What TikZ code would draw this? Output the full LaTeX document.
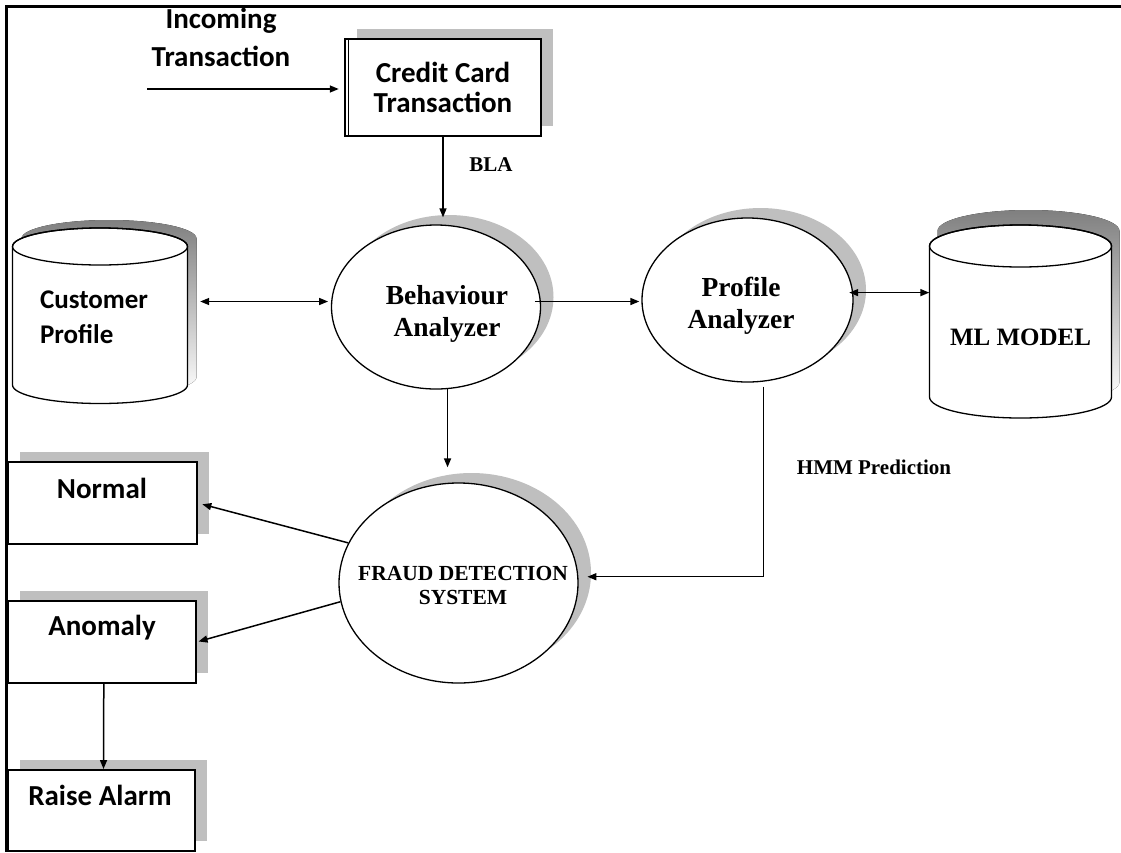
\documentclass[tikz,border=0pt]{standalone}
\usepackage{fontspec}
\newfontfamily\calfont{Carlito}
\newfontfamily\timfont{Liberation Serif}
\usetikzlibrary{shapes.geometric,shadows,arrows.meta,calc}
\definecolor{shade}{gray}{0.75}
% cylinder outline: cx, y of top ellipse centre, y of bottom ellipse centre, rx, ry
\newcommand\cylpath[5]{(#1-#4,#2) -- (#1-#4,#3) arc[start angle=180,end angle=360,x radius=#4pt,y radius=#5pt] -- (#1+#4,#2) arc[start angle=0,end angle=180,x radius=#4pt,y radius=#5pt] -- cycle}
\newcommand\cylinderdraw[7]{%
  \fill[shade,shift={(#6pt,#7pt)}] \cylpath{#1}{#2}{#3}{#4}{#5};
  \filldraw[fill=white,line width=1.3pt] \cylpath{#1}{#2}{#3}{#4}{#5};
  \draw[line width=1.3pt] (#1,#2) ellipse[x radius=#4pt,y radius=#5pt];}
\begin{document}
\begin{tikzpicture}[x=1pt,y=-1pt,
  calA/.style={font=\calfont\bfseries\fontsize{29}{38}\selectfont},
  calB/.style={font=\calfont\bfseries\fontsize{29}{30}\selectfont},
  calC/.style={font=\calfont\bfseries\fontsize{27}{35}\selectfont},
  calD/.style={font=\calfont\bfseries\fontsize{29}{30}\selectfont},
  timA/.style={font=\timfont\bfseries\fontsize{27.5}{32}\selectfont},
  timB/.style={font=\timfont\bfseries\fontsize{25}{30}\selectfont},
  timC/.style={font=\timfont\bfseries\fontsize{21.5}{24}\selectfont},
  timD/.style={font=\timfont\bfseries\fontsize{21}{24}\selectfont},
  boxsh/.style={general shadow={fill=shade,shadow xshift=12pt,shadow yshift=10pt}},
  ellsh/.style={general shadow={fill=shade,shadow xshift=13pt,shadow yshift=10pt}},
  box/.style={rectangle,draw,line width=2pt,fill=white,inner sep=0pt,boxsh},
  oval/.style={ellipse,draw,line width=1.3pt,fill=white,inner sep=0pt,ellsh},
  arr/.style={line width=1.5pt,-{Triangle[length=9pt,width=7pt]}},
  dbl/.style={line width=1.5pt,{Triangle[length=9pt,width=7pt]}-{Triangle[length=9pt,width=7pt]}}
]
\useasboundingbox (0,0) rectangle (1121,852);
% frame
\draw[line width=3pt] (1121,6) -- (6.5,6) -- (6.5,852);

% incoming transaction
\node[calA,align=center] (inctext) at (221,37) {Incoming\\Transaction};
\coordinate (inc) at (147,89);

% credit card transaction box
\node[box,minimum width=196.5pt,minimum height=97pt,calB,align=center] (cc) at (443,87.5) {Credit Card\\Transaction};
\draw[line width=1.5pt] ([xshift=4.5pt]cc.north west) -- ([xshift=4.5pt]cc.south west);

% cylinders
\cylinderdraw{100}{246.5}{385}{87.5}{18.5}{9}{8}
\node[minimum width=175pt,minimum height=175pt,text width=120pt,inner xsep=27.5pt,align=left,calC] (cp) at (100,317) {Customer\\Profile};
\cylinderdraw{1020.5}{246}{397}{91}{21}{8}{15}
\node[minimum width=182pt,inner xsep=0pt,timB] (ml) at (1020.5,337) {ML MODEL};

% ellipses
\node[oval,minimum width=209pt,minimum height=164pt] (ba) at (436,307) {};
\node[timA,align=center] (batext) at (447,314) {Behaviour\\Analyzer};
\node[oval,minimum width=211pt,minimum height=164pt] (pa) at (747.5,300) {};
\node[timA,align=center] (patext) at (741,306) {Profile\\Analyzer};
\node[oval,minimum width=239pt,minimum height=200pt] (fds) at (458.5,583) {};
\node[timC,align=center] (fdstext) at (463,585.5) {FRAUD DETECTION\\SYSTEM};

% output boxes
\node[box,minimum width=188.5pt,minimum height=82.3pt] (normal) at (102.25,503) {};
\node[calD] (normaltext) at (102,488) {Normal};
\node[box,minimum width=187.6pt,minimum height=81.7pt] (anomaly) at (101.8,642) {};
\node[calD] (anomalytext) at (102,628) {Anomaly};
\node[box,minimum width=187pt,minimum height=81pt] (raise) at (101.5,810.5) {};
\node[calD] (raisetext) at (100,795) {Raise Alarm};

% labels
\node[timD] (bla) at (491,165) {BLA};
\node[timD] (hmm) at (874,467) {HMM Prediction};

% connectors
\draw[arr,shorten >=5pt] (inc) -- (inc -| cc.west);
\draw[arr,shorten >=7pt] (cc.south) -- (cc.south |- ba.north);
\draw[dbl,shorten <=12.5pt,shorten >=3pt] (cp.east |- ba.177) -- (ba.177);
\draw[arr,shorten <=-6pt,shorten >=2pt] (ba.3) -- (ba.3 -| pa.west);
\draw[dbl,shorten <=-4pt] (pa.4) -- (pa.4 -| ml.west);
\draw[arr,shorten <=5pt,shorten >=9pt] (pa.281) |- (fds.3);
\draw[arr,shorten >=15pt] (ba.278) -- (ba.278 |- fds.north);
\draw[arr,shorten >=5pt] (fds.160) -- (normal.east);
\draw[arr,shorten >=2pt] (fds.189) -- (anomaly.east);
\draw[arr] ([xshift=2pt]anomaly.south) -- ([xshift=2pt]raise.north);
\end{tikzpicture}
\end{document}
